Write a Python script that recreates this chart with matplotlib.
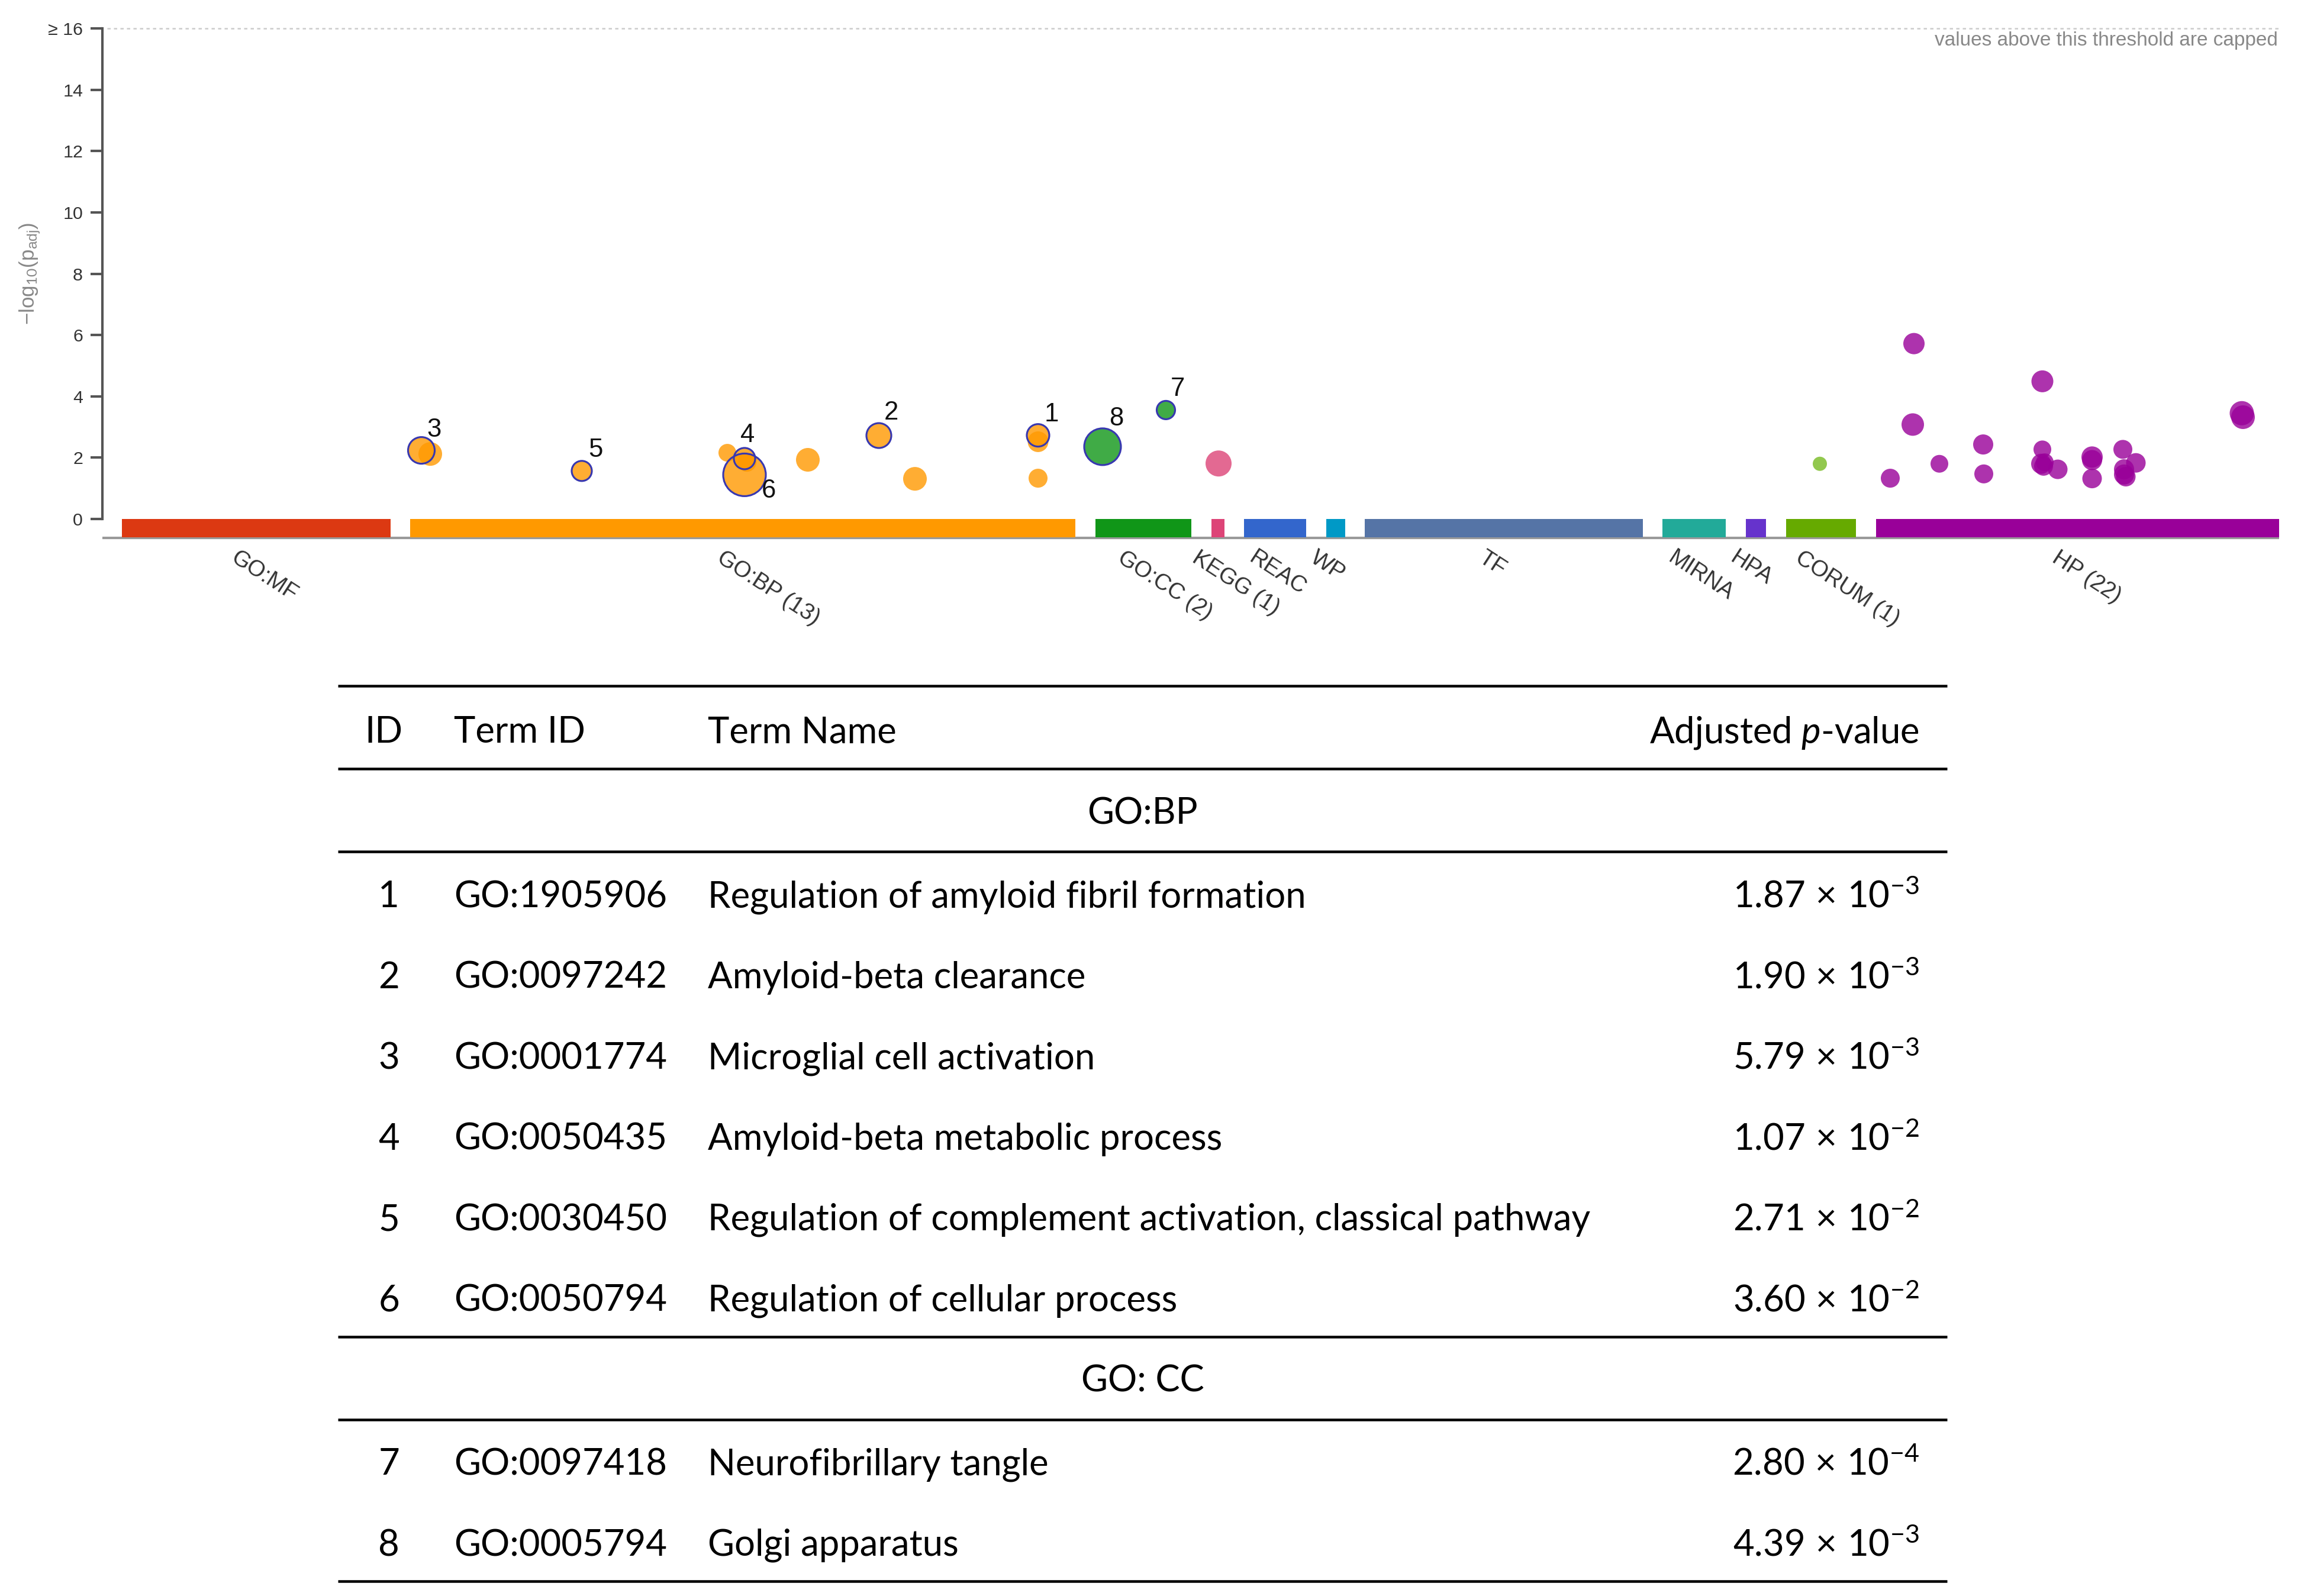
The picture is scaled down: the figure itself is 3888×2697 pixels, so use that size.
import matplotlib
matplotlib.use('Agg')
import matplotlib.pyplot as plt
from matplotlib.lines import Line2D

W, H, DPI = 3888, 2697, 300
PT = 72.0 / DPI  # points per pixel

plt.rcParams['mathtext.fontset'] = 'custom'
plt.rcParams['mathtext.rm'] = 'Lato'
plt.rcParams['mathtext.it'] = 'Lato:italic'
plt.rcParams['mathtext.sf'] = 'Lato'

# ---------------- data: sources ----------------
source_labels = ['GO:MF', 'GO:BP (13)', 'GO:CC (2)', 'KEGG (1)', 'REAC', 'WP', 'TF',
                 'MIRNA', 'HPA', 'CORUM (1)', 'HP (22)']
source_start = [206, 693, 1851, 2047, 2102, 2241, 2306, 2809, 2950, 3018, 3170]
source_end = [660, 1817, 2013, 2069, 2207, 2273, 2776, 2916, 2984, 3136, 3851]
source_colors = ['#dc3912', '#ff9900', '#109618', '#dd4477', '#3366cc', '#0099c6',
                 '#5574a6', '#22aa99', '#6633cc', '#66aa00', '#990099']

# ---------------- data: terms (x position, -log10 padj, size, highlight id) ----------------
bp_x = [727, 1229, 1262, 1365, 1546, 1754, 1754, 1258, 1258, 712, 983, 1485, 1754]
bp_y = [2.12, 2.16, 1.85, 1.93, 1.31, 2.52, 1.33, 1.44, 1.97, 2.237, 1.567, 2.721, 2.728]
bp_d = [40, 30, 32, 40, 40, 35, 32, 72, 36, 45, 34, 42, 38]
bp_id = [0, 0, 0, 0, 0, 0, 0, 6, 4, 3, 5, 2, 1]

cc_x = [1863, 1970]
cc_y = [2.357, 3.553]
cc_d = [62, 31]
cc_id = [8, 7]

kegg_x = [2059]
kegg_y = [1.81]
kegg_d = [44]

corum_x = [3075]
corum_y = [1.80]
corum_d = [24]

hp_x = [3234, 3451, 3788, 3790, 3232, 3351, 3277, 3194, 3352, 3451, 3449,
        3453, 3477, 3535, 3535, 3535, 3587, 3609, 3589, 3589, 3592, 3455]
hp_y = [5.72, 4.49, 3.45, 3.32, 3.08, 2.43, 1.80, 1.33, 1.47, 2.27, 1.80,
        1.72, 1.62, 2.02, 1.92, 1.32, 2.27, 1.83, 1.62, 1.45, 1.38, 1.85]
hp_d = [36, 37, 41, 40, 38, 34, 30, 32, 32, 30, 34,
        32, 33, 36, 34, 33, 32, 33, 34, 34, 33, 30]

yticks = [0, 2, 4, 6, 8, 10, 12, 14, 16]
ytick_labels = ['0', '2', '4', '6', '8', '10', '12', '14', '\u2265 16']

# label offsets for highlighted terms (px, style)
label_offset = {3: (22, 35), 5: (23, 35), 4: (5, 39), 6: (41, -27),
                2: (21, 39), 1: (23, 35), 8: (23, 47), 7: (20, 35)}

# ---------------- data: table ----------------
tbl_id = ['1', '2', '3', '4', '5', '6', '7', '8']
tbl_term = ['GO:1905906', 'GO:0097242', 'GO:0001774', 'GO:0050435', 'GO:0030450',
            'GO:0050794', 'GO:0097418', 'GO:0005794']
tbl_name = ['Regulation of amyloid fibril formation', 'Amyloid-beta clearance',
            'Microglial cell activation', 'Amyloid-beta metabolic process',
            'Regulation of complement activation, classical pathway',
            'Regulation of cellular process', 'Neurofibrillary tangle', 'Golgi apparatus']
tbl_mant = ['1.87', '1.90', '5.79', '1.07', '2.71', '3.60', '2.80', '4.39']
tbl_exp = ['-3', '-3', '-3', '-2', '-2', '-2', '-4', '-3']
tbl_groups = ['GO:BP', 'GO: CC']
tbl_group_rows = [6, 2]

# ---------------- figure ----------------
fig = plt.figure(figsize=(W / DPI, H / DPI), dpi=DPI, facecolor='white')

y0_px, y16_px = 877.0, 48.0
unit = (y0_px - y16_px) / 16.0
ax_left, ax_right = 173.0, 3860.0
ax_bottom_px = 909.0
ymin = -(ax_bottom_px - y0_px) / unit
ax = fig.add_axes([ax_left / W, 1 - ax_bottom_px / H, (ax_right - ax_left) / W,
                   (ax_bottom_px - y16_px) / H])
ax.set_xlim(ax_left, ax_right)
ax.set_ylim(ymin, 16)
for s in ['top', 'right', 'bottom']:
    ax.spines[s].set_visible(False)
ax.spines['left'].set_bounds(0, 16)
ax.spines['left'].set_color('#555555')
ax.spines['left'].set_linewidth(1.0)
ax.set_xticks([])
ax.set_yticks(yticks)
ax.set_yticklabels(ytick_labels, fontfamily='Liberation Sans', fontsize=7.3, color='#333333')
ax.tick_params(axis='y', length=20 * PT, width=1.0, color='#555555', pad=13 * PT)

# bars
for s0, s1, c in zip(source_start, source_end, source_colors):
    ax.bar((s0 + s1) / 2, ymin * 0.97, width=s1 - s0, bottom=0, color=c,
           linewidth=0, zorder=2)
# baseline
ax.plot([ax_left, source_end[-1]], [ymin, ymin], color='#999999', lw=1.0,
        clip_on=False, zorder=1, solid_capstyle='butt')

# threshold line
ax.plot([ax_left + 8, source_end[-1]], [16, 16], color='#cccccc', lw=0.6,
        ls=(0, (2.2, 2.2)), clip_on=False, zorder=1)
ax.text(3849, 15.6, 'values above this threshold are capped', ha='right', va='center',
        fontsize=8.0, color='#888888', fontfamily='Liberation Sans')

# y label
fig.text(51 / W, 1 - 462 / H, '\u2212log$_{10}$(p$_{\\mathregular{adj}}$)', rotation=90,
         ha='center', va='center', fontsize=8.4, color='#888888',
         fontfamily='Liberation Sans')

# category labels
for s0, s1, lab in zip(source_start, source_end, source_labels):
    ax.annotate(lab, xy=((s0 + s1) / 2, 0), xycoords=('data', 'axes fraction'),
                xytext=(-30 * PT, -16 * PT), textcoords='offset points',
                rotation=-33, rotation_mode='anchor', ha='left', va='top',
                fontsize=9.2, color='#333333', fontfamily='Liberation Sans',
                annotation_clip=False)

ALPHA = 0.8
EDGE = '#3838b0'


def draw(xs, ys, ds, color, ids=None):
    for i, (x, y, d) in enumerate(zip(xs, ys, ds)):
        hid = ids[i] if ids is not None else 0
        s = (d * PT) ** 2
        if hid:
            ax.scatter([x], [y], s=s, facecolor=color, alpha=ALPHA, edgecolor='none', zorder=4)
            ax.scatter([x], [y], s=s, facecolor='none', edgecolor=EDGE,
                       linewidth=0.75, zorder=5)
            dx, dy = label_offset[hid]
            ax.annotate(str(hid), xy=(x, y), xytext=(dx * PT, dy * PT),
                        textcoords='offset points', ha='center', va='center',
                        fontsize=10.5, color='#111111', fontfamily='Liberation Sans',
                        zorder=6)
        else:
            ax.scatter([x], [y], s=s, facecolor=color, alpha=ALPHA, edgecolor='none', zorder=3)


draw(bp_x, bp_y, bp_d, source_colors[1], bp_id)
draw(cc_x, cc_y, cc_d, source_colors[2], cc_id)
draw(kegg_x, kegg_y, kegg_d, source_colors[3])
draw(corum_x, corum_y, corum_d, '#77bb22')
draw(hp_x, hp_y, hp_d, source_colors[10])

# ---------------- table ----------------
tx = fig.add_axes([0, 0, 1, 1], zorder=-1)
tx.set_xlim(0, W)
tx.set_ylim(H, 0)
tx.axis('off')
tx.patch.set_visible(False)

TL, TR = 571, 3290
LW = 4.5 * PT
FS = 14.8
FONT = 'Lato'
col_id_hdr, col_id, col_term, col_name, col_p = 648, 657, 767, 1196, 3243


def hline(y):
    tx.add_line(Line2D([TL, TR], [y, y], color='black', lw=LW, solid_capstyle='butt'))


hline(1159)
hdr_y = 1232
tx.text(col_id_hdr, hdr_y, 'ID', ha='center', va='center_baseline', fontsize=FS, fontfamily=FONT)
tx.text(col_term, hdr_y, 'Term ID', ha='left', va='center_baseline', fontsize=FS, fontfamily=FONT)
tx.text(col_name, hdr_y, 'Term Name', ha='left', va='center_baseline', fontsize=FS, fontfamily=FONT)
tx.text(col_p, hdr_y, 'Adjusted $\\mathit{p}$-value', ha='right', va='center_baseline',
        fontsize=FS, fontfamily=FONT)
hline(1299)

row_h = 136.5
y = 1299
r = 0
for g, n in zip(tbl_groups, tbl_group_rows):
    gy = y + 70
    tx.text((TL + TR) / 2, gy, g, ha='center', va='center_baseline', fontsize=FS, fontfamily=FONT)
    y += 140
    hline(y)
    for k in range(n):
        ry = y + 71 + k * row_h
        tx.text(col_id, ry, tbl_id[r], ha='center', va='center_baseline', fontsize=FS, fontfamily=FONT)
        tx.text(col_term, ry, tbl_term[r], ha='left', va='center_baseline', fontsize=FS, fontfamily=FONT)
        tx.text(col_name, ry, tbl_name[r], ha='left', va='center_baseline', fontsize=FS, fontfamily=FONT)
        tx.text(col_p, ry, '$\\mathregular{%s\\,\\times\\,10^{\u2212%s}}$' % (tbl_mant[r], tbl_exp[r][1:]),
                ha='right', va='center_baseline', fontsize=FS, fontfamily=FONT)
        r += 1
    y = y + 71 + (n - 1) * row_h + 66
    hline(y)

fig.savefig('out.png', dpi=DPI, facecolor='white')
